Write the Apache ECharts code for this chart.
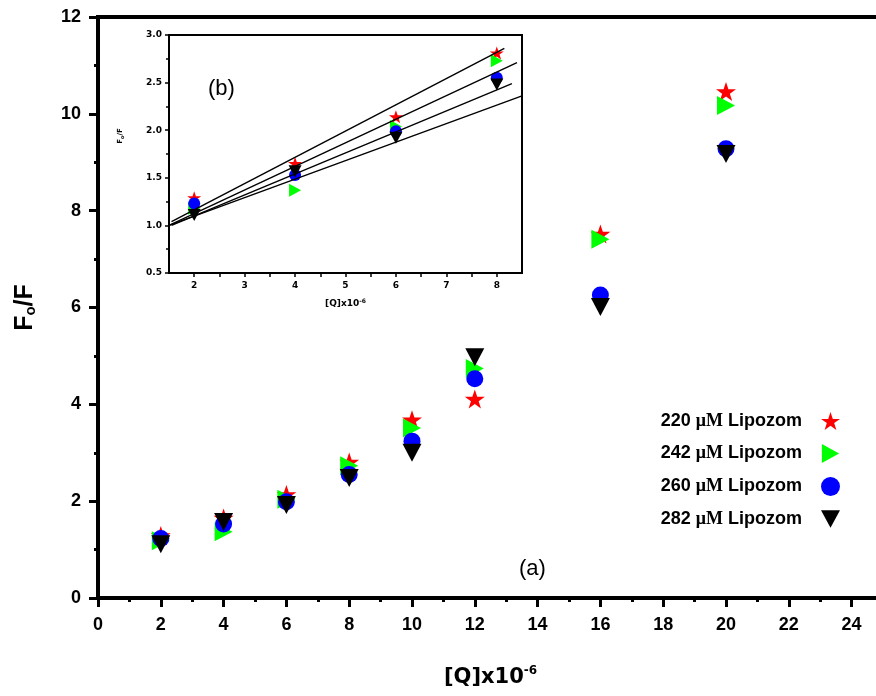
<!DOCTYPE html>
<html>
<head>
<meta charset="utf-8">
<script src="https://cdn.jsdelivr.net/npm/echarts@6/dist/echarts.min.js"></script>
<style>html,body{margin:0;padding:0;background:#fff}#c{width:876px;height:696px}</style>
</head>
<body>
<div id="c"></div>
<script>
// ---------- data ----------
const concentrations = [220, 242, 260, 282];
const xMain = [2, 4, 6, 8, 10, 12, 16, 20];
const y220 = [1.29, 1.65, 2.14, 2.81, 3.68, 4.11, 7.52, 10.46];
const y242 = [1.18, 1.37, 2.04, 2.73, 3.51, 4.74, 7.41, 10.17];
const y260 = [1.23, 1.53, 1.99, 2.55, 3.24, 4.53, 6.26, 9.28];
const y282 = [1.11, 1.57, 1.92, 2.48, 3.00, 4.97, 6.01, 9.17];
const xInset = [2, 4, 6, 8];
// inset straight-line fits (endpoints)
const fit220 = [[1.55, 1.04], [8.15, 2.86]];
const fit242 = [[1.5, 1.0], [8.4, 2.71]];
const fit260 = [[1.55, 1.0], [8.3, 2.49]];
const fit282 = [[1.5, 1.0], [8.5, 2.36]];
const xTicksMain = [0, 2, 4, 6, 8, 10, 12, 14, 16, 18, 20, 22, 24];

// ---------- styles ----------
const STAR = 'path://M50,0 L61.8,35.1 L98.5,35.1 L68.8,56.7 L79.9,91.9 L50,70.3 L20.1,91.9 L31.2,56.7 L1.5,35.1 L38.2,35.1 Z';
const RTRI = 'path://M0,0 L10,5.5 L0,11 Z';
const DTRI = 'path://M0,0 L11,0 L5.5,10 Z';
const symbols = [STAR, RTRI, 'circle', DTRI];
const colors = ['#ff0000', '#00ff00', '#0000ff', '#000000'];
const mainSizes = [[20, 19], [18, 19], [17, 17], [19, 18]];
const insetSizes = [[14, 13], [12, 13], [12, 12], [13, 12]];
const names = concentrations.map(c => c + ' μM Lipozom');
const mainData = [y220, y242, y260, y282];
const fits = [fit220, fit242, fit260, fit282];

const zip = (xs, ys) => xs.map((x, i) => [x, ys[i]]);
const bold = 'Liberation Sans';

const series = [];
mainData.forEach((ys, k) => {
  series.push({
    name: names[k], type: 'scatter', xAxisIndex: 0, yAxisIndex: 0,
    symbol: symbols[k], symbolSize: mainSizes[k], symbolKeepAspect: false,
    itemStyle: { color: colors[k], opacity: 1 },
    data: zip(xMain, ys), z: 3 + k
  });
});
mainData.forEach((ys, k) => {
  series.push({
    name: names[k], type: 'scatter', xAxisIndex: 1, yAxisIndex: 1,
    symbol: symbols[k], symbolSize: insetSizes[k],
    itemStyle: { color: colors[k], opacity: 1 },
    data: zip(xInset, ys.slice(0, 4)), z: 3 + k
  });
});
fits.forEach((f, k) => {
  series.push({
    name: 'fit' + k, type: 'line', xAxisIndex: 1, yAxisIndex: 1,
    showSymbol: false, symbol: 'none', silent: true,
    lineStyle: { color: '#000', width: 1.4 },
    data: f, z: 8
  });
});

const chart = echarts.init(document.getElementById('c'), null, { renderer: 'canvas' });
chart.setOption({
  animation: false,
  backgroundColor: '#ffffff',
  grid: [
    { left: 98, top: 17, width: 785, height: 581, outerBoundsMode: 'none', containLabel: false, show: true, borderColor: '#000', borderWidth: 4, backgroundColor: 'transparent' },
    { left: 169, top: 35, width: 353, height: 238, outerBoundsMode: 'none', containLabel: false, show: true, borderColor: '#000', borderWidth: 2, backgroundColor: 'transparent' }
  ],
  xAxis: [
    {
      gridIndex: 0, type: 'value', min: 0, max: 25, interval: 2,
      name: '[Q]x10{sup|-6}', nameLocation: 'middle', nameGap: 67,
      nameTextStyle: {
        fontFamily: 'DejaVu Sans', fontWeight: 'bold', fontSize: 21, color: '#000',
        rich: { sup: { fontFamily: 'DejaVu Sans', fontWeight: 'bold', fontSize: 12, color: '#000', padding: [0, 0, 14, 0] } }
      },
      axisLine: { onZero: false, lineStyle: { color: '#000', width: 4 } },
      axisTick: { length: 9, lineStyle: { color: '#000', width: 3 } },
      minorTick: { show: true, splitNumber: 2, length: 4, lineStyle: { color: '#000', width: 3 } },
      splitLine: { show: false },
      axisLabel: {
        margin: 18, fontFamily: bold, fontWeight: 'bold', fontSize: 18, color: '#000',
        showMaxLabel: false,
        formatter: v => (xTicksMain.indexOf(v) >= 0 ? String(v) : '')
      }
    },
    {
      gridIndex: 1, type: 'value', min: 1.5, max: 8.5, interval: 0.5,
      name: '[Q]x10{sup|-6}', nameLocation: 'middle', nameGap: 25,
      nameTextStyle: {
        fontFamily: 'DejaVu Sans', fontWeight: 'bold', fontSize: 9, color: '#000',
        rich: { sup: { fontFamily: 'DejaVu Sans', fontWeight: 'bold', fontSize: 6, color: '#000', padding: [0, 0, 6, 0] } }
      },
      axisLine: { onZero: false, lineStyle: { color: '#000', width: 2 } },
      axisTick: { length: 4, lineStyle: { color: '#000', width: 1.5 } },
      splitLine: { show: false },
      axisLabel: {
        margin: 8, fontFamily: 'DejaVu Sans', fontWeight: 'bold', fontSize: 9, color: '#000',
        showMinLabel: false, showMaxLabel: false,
        formatter: v => (Number.isInteger(v) ? String(v) : '')
      }
    }
  ],
  yAxis: [
    {
      gridIndex: 0, type: 'value', min: 0, max: 12, interval: 2,
      name: '{a|F}{s|o}{a|/F}', nameLocation: 'middle', nameRotate: 90, nameGap: 58,
      nameTextStyle: {
        rich: {
          a: { fontFamily: bold, fontWeight: 'bold', fontSize: 25, color: '#000', lineHeight: 30 },
          s: { fontFamily: bold, fontWeight: 'bold', fontSize: 15, color: '#000', padding: [12, 0, 0, 0] }
        }
      },
      axisLine: { onZero: false, lineStyle: { color: '#000', width: 4 } },
      axisTick: { length: 9, lineStyle: { color: '#000', width: 3 } },
      minorTick: { show: true, splitNumber: 2, length: 4, lineStyle: { color: '#000', width: 3 } },
      splitLine: { show: false },
      axisLabel: { margin: 17, fontFamily: bold, fontWeight: 'bold', fontSize: 18, color: '#000' }
    },
    {
      gridIndex: 1, type: 'value', min: 0.5, max: 3.0, interval: 0.5,
      name: '{a|F}{s|o}{a|/F}', nameLocation: 'middle', nameRotate: 90, nameGap: 44,
      nameTextStyle: {
        padding: [0, 0, 0, 36],
        rich: {
          a: { fontFamily: 'DejaVu Sans', fontWeight: 'bold', fontSize: 7, color: '#000', lineHeight: 9 },
          s: { fontFamily: 'DejaVu Sans', fontWeight: 'bold', fontSize: 5, color: '#000', padding: [4, 0, 0, 0] }
        }
      },
      axisLine: { onZero: false, lineStyle: { color: '#000', width: 2 } },
      axisTick: { length: 4, lineStyle: { color: '#000', width: 1.5 } },
      minorTick: { show: true, splitNumber: 2, length: 3, lineStyle: { color: '#000', width: 1.5 } },
      splitLine: { show: false },
      axisLabel: {
        margin: 7, fontFamily: 'DejaVu Sans', fontWeight: 'bold', fontSize: 9, color: '#000',
        formatter: v => v.toFixed(1)
      }
    }
  ],
  legend: {
    orient: 'vertical', right: 31, top: 407, align: 'right',
    itemWidth: 19, itemHeight: 19, itemGap: 14,
    data: names.map((n, k) => ({ name: n, icon: symbols[k] === 'circle' ? 'circle' : symbols[k] })),
    formatter: n => {
      const parts = n.split(' μM ');
      return '{t|' + parts[0] + ' }{m|μM}{t| ' + parts[1] + '}';
    },
    textStyle: {
      padding: [0, 14, 0, 0],
      rich: {
        t: { fontFamily: bold, fontWeight: 'bold', fontSize: 18, color: '#000' },
        m: { fontFamily: 'Liberation Serif', fontWeight: 'bold', fontSize: 18, color: '#000' }
      }
    },
    selectedMode: false
  },
  graphic: [
    { type: 'text', left: 208, top: 78, style: { text: '(b)', font: '22px "Liberation Sans"', fill: '#000' } },
    { type: 'text', left: 519, top: 558, style: { text: '(a)', font: '22px "Liberation Sans"', fill: '#000' } }
  ],
  series: series
});
</script>
</body>
</html>
